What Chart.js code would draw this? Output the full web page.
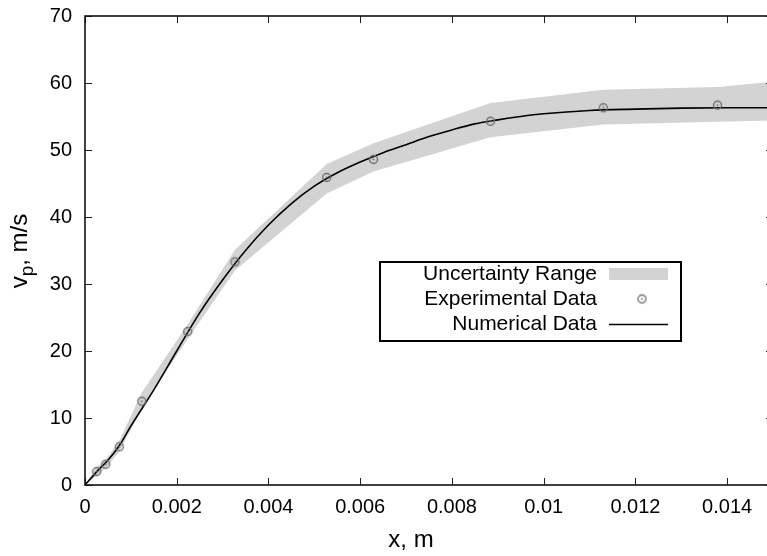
<!DOCTYPE html>
<html>
<head>
<meta charset="utf-8">
<script src="https://cdn.jsdelivr.net/npm/chart.js@4.4.0/dist/chart.umd.min.js"></script>
<style>
  body { margin: 0; width: 767px; height: 556px; overflow: hidden; background: #fff; }
  #wrap { width: 779px; height: 556px; }
  canvas { display: block; }
</style>
</head>
<body>
<div id="wrap"><canvas id="vpChart" width="779" height="556"></canvas></div>
<script>
// experimental points
const expX = [0.000255, 0.000452, 0.000748, 0.00124, 0.00224, 0.00327, 0.00527, 0.00629, 0.00884, 0.0113, 0.01379];
const expY = [2.0, 3.1, 5.7, 12.5, 22.9, 33.3, 45.9, 48.6, 54.3, 56.3, 56.7];

// uncertainty band
const bandX = [0, 0.000255, 0.000452, 0.000748, 0.00124, 0.00224, 0.00327, 0.00527, 0.00629, 0.00884, 0.0113, 0.01379, 0.015];
const bandUpper = [0, 2.6, 3.8, 6.6, 13.8, 24.0, 35.1, 47.9, 51.0, 57.0, 59.0, 59.4, 60.2];
const bandLower = [0, 1.4, 2.5, 5.0, 11.4, 21.8, 32.0, 43.5, 46.8, 51.9, 53.8, 54.2, 54.4];

// numerical curve
const numX = [0, 0.0003, 0.0005, 0.00075, 0.001, 0.0015, 0.002, 0.0025, 0.003, 0.0035, 0.004, 0.0045, 0.005, 0.0055,
  0.006, 0.0065, 0.007, 0.0075, 0.008, 0.0085, 0.009, 0.0095, 0.01, 0.011, 0.012, 0.013, 0.014, 0.015];
const numY = [0, 2.3, 3.7, 5.9, 8.8, 14.2, 20.0, 25.7, 30.6, 35.0, 38.8, 42.0, 44.6, 46.6,
  48.2, 49.6, 50.8, 52.0, 53.0, 53.9, 54.5, 55.0, 55.4, 55.9, 56.1, 56.25, 56.3, 56.3];

const xTicks = [0, 0.002, 0.004, 0.006, 0.008, 0.01, 0.012, 0.014];
const yTicks = [0, 10, 20, 30, 40, 50, 60, 70];

const FONT = '"Liberation Sans", Arial, sans-serif';
const markColor = '#6f6f6f';
const bandColor = '#d3d3d3';

const toXY = (xs, ys) => xs.map((x, i) => ({ x: x, y: ys[i] }));

// hollow circle with a dot in the middle
const marker = document.createElement('canvas');
marker.width = 13;
marker.height = 13;
(function () {
  const m = marker.getContext('2d');
  m.strokeStyle = markColor;
  m.fillStyle = markColor;
  m.lineWidth = 1.4;
  m.beginPath();
  m.arc(6.5, 6.5, 4, 0, Math.PI * 2);
  m.stroke();
  m.beginPath();
  m.arc(6.5, 6.5, 1, 0, Math.PI * 2);
  m.fill();
})();

const framePlugin = {
  id: 'frame',
  afterDraw(chart) {
    const ctx = chart.ctx;
    const a = chart.chartArea;
    const xs = chart.scales.x;
    const ys = chart.scales.y;
    ctx.save();

    // inward tick marks on all four sides
    ctx.strokeStyle = '#222';
    ctx.lineWidth = 1;
    ctx.beginPath();
    xTicks.forEach(v => {
      const px = Math.round(xs.getPixelForValue(v)) + 0.5;
      ctx.moveTo(px, a.bottom); ctx.lineTo(px, a.bottom - 7);
      ctx.moveTo(px, a.top); ctx.lineTo(px, a.top + 7);
    });
    yTicks.forEach(v => {
      const py = Math.round(ys.getPixelForValue(v)) + 0.5;
      ctx.moveTo(a.left, py); ctx.lineTo(a.left + 7, py);
      ctx.moveTo(a.right, py); ctx.lineTo(a.right - 7, py);
    });
    ctx.stroke();

    ctx.strokeStyle = '#111';
    ctx.lineWidth = 1.6;
    ctx.strokeRect(a.left, a.top, a.right - a.left, a.bottom - a.top);

    // axis titles
    ctx.fillStyle = '#000';
    ctx.font = '24px ' + FONT;
    ctx.textAlign = 'center';
    ctx.textBaseline = 'middle';
    ctx.fillText('x, m', 411, 540);

    ctx.translate(27, 251);
    ctx.rotate(-Math.PI / 2);
    ctx.textBaseline = 'alphabetic';
    ctx.textAlign = 'left';
    const big = '24px ' + FONT;
    const small = '19px ' + FONT;
    ctx.font = big;
    const w1 = ctx.measureText('v').width;
    const w3 = ctx.measureText(', m/s').width;
    ctx.font = small;
    const w2 = ctx.measureText('p').width;
    let x0 = -(w1 + w2 + w3) / 2;
    ctx.font = big;
    ctx.fillText('v', x0, 0);
    ctx.font = small;
    ctx.fillText('p', x0 + w1, 6);
    ctx.font = big;
    ctx.fillText(', m/s', x0 + w1 + w2, 0);
    ctx.restore();

    // legend box
    ctx.save();
    ctx.fillStyle = '#fff';
    ctx.fillRect(380, 262, 301, 79);
    ctx.strokeStyle = '#000';
    ctx.lineWidth = 2;
    ctx.strokeRect(380, 262, 301, 79);
    ctx.font = '21px ' + FONT;
    ctx.textAlign = 'right';
    ctx.textBaseline = 'middle';
    const rows = chart.data.datasets.filter(d => d.legendRow !== undefined)
      .sort((p, q) => p.legendRow - q.legendRow);
    rows.forEach((d, i) => {
      const ry = 274 + i * 25;
      ctx.fillStyle = '#000';
      ctx.fillText(d.label, 597, ry);
      if (d.legendKind === 'band') {
        ctx.fillStyle = bandColor;
        ctx.fillRect(609, ry - 6, 59, 12);
      } else if (d.legendKind === 'point') {
        ctx.drawImage(marker, 642 - 6.5, ry - 6.5);
      } else {
        ctx.strokeStyle = '#000';
        ctx.lineWidth = 1.5;
        ctx.beginPath();
        ctx.moveTo(609, ry + 0.5);
        ctx.lineTo(668, ry + 0.5);
        ctx.stroke();
      }
    });
    ctx.restore();
  }
};

new Chart(document.getElementById('vpChart'), {
  type: 'line',
  data: {
    datasets: [
      {
        label: 'Experimental Data',
        legendRow: 1,
        legendKind: 'point',
        data: toXY(expX, expY),
        showLine: false,
        pointStyle: marker,
        pointRadius: 5,
        order: 0
      },
      {
        label: 'Numerical Data',
        legendRow: 2,
        legendKind: 'line',
        data: toXY(numX, numY),
        borderColor: '#000',
        borderWidth: 1.6,
        pointRadius: 0,
        cubicInterpolationMode: 'monotone',
        fill: false,
        order: 1
      },
      {
        label: 'Uncertainty Range',
        legendRow: 0,
        legendKind: 'band',
        data: toXY(bandX, bandUpper),
        borderWidth: 0,
        borderColor: 'rgba(0,0,0,0)',
        pointRadius: 0,
        backgroundColor: bandColor,
        fill: '+1',
        order: 2
      },
      {
        label: 'lower',
        data: toXY(bandX, bandLower),
        borderWidth: 0,
        borderColor: 'rgba(0,0,0,0)',
        pointRadius: 0,
        fill: false,
        order: 3
      }
    ]
  },
  options: {
    responsive: false,
    animation: false,
    devicePixelRatio: 1,
    layout: { padding: { top: 16, left: 0, right: 0, bottom: 0 } },
    plugins: {
      legend: { display: false },
      tooltip: { enabled: false }
    },
    scales: {
      x: {
        type: 'linear',
        min: 0,
        max: 0.015,
        afterFit: s => { s.height = 71; s.paddingLeft = 0; s.paddingRight = 0; },
        afterBuildTicks: s => { s.ticks = xTicks.map(v => ({ value: v })); },
        grid: { display: false, drawTicks: false },
        border: { display: false },
        ticks: {
          padding: 10,
          color: '#000',
          font: { family: FONT, size: 20 },
          callback: v => String(Number(v.toFixed(3)))
        }
      },
      y: {
        min: 0,
        max: 70,
        afterFit: s => { s.width = 85; s.paddingTop = 0; s.paddingBottom = 0; },
        afterBuildTicks: s => { s.ticks = yTicks.map(v => ({ value: v })); },
        grid: { display: false, drawTicks: false },
        border: { display: false },
        ticks: {
          padding: 13,
          color: '#000',
          font: { family: FONT, size: 20 }
        }
      }
    }
  },
  plugins: [framePlugin]
});
</script>
</body>
</html>
